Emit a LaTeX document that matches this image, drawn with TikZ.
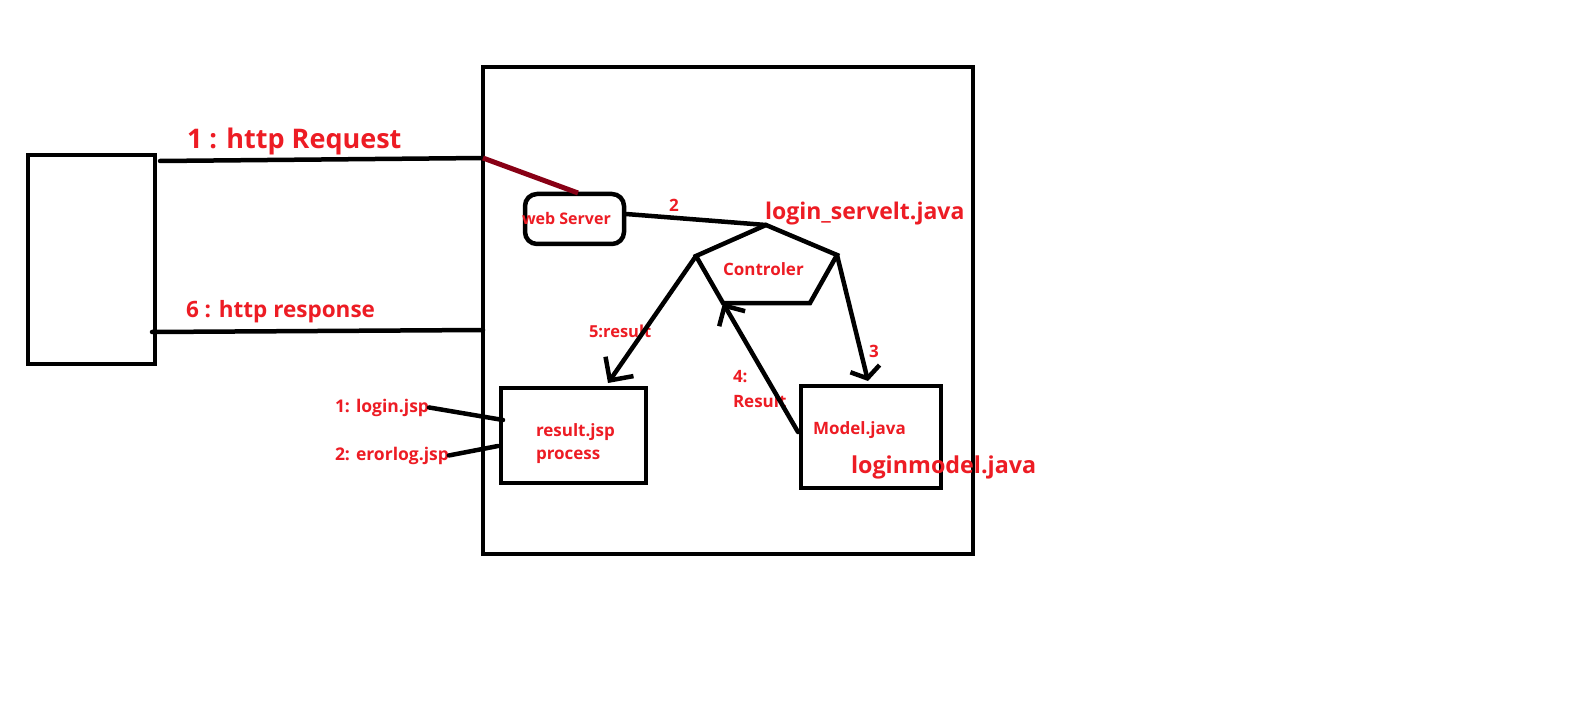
\documentclass[tikz,border=0pt]{standalone}
\usepackage{fontspec}
\setmainfont{Open Sans}
\usetikzlibrary{arrows.meta}
\definecolor{pred}{HTML}{ED1C24}
\definecolor{pdark}{HTML}{880015}
\newcommand{\fsz}[1]{\fontsize{#1}{#1}\selectfont\bfseries}
\begin{document}
\begin{tikzpicture}[x=1pt,y=-1pt,
  box/.style={draw=black,line width=4.5pt,rectangle,inner sep=0pt,outer sep=0pt},
  lbl/.style={text=pred,anchor=base west,inner sep=0pt,outer sep=0pt},
  wire/.style={draw=black,line width=4.5pt,line cap=round},
  ]
\useasboundingbox[fill=white] (0,0) rectangle (1594,719);
% boxes
\node[box,minimum width=127pt,minimum height=209pt] (client) at (91.5,259.5) {};
\node[box,minimum width=490pt,minimum height=487pt] (server) at (728,310.5) {};
\node[box,rounded corners=12pt,minimum width=99pt,minimum height=50pt] (web) at (574.5,219) {};
\node[box,minimum width=145pt,minimum height=95pt] (result) at (573.5,435.5) {};
\node[box,minimum width=140pt,minimum height=102pt] (model) at (871,437) {};
% pentagon (controller)
\coordinate (pt) at (766,225);
\coordinate (pr) at (837,255);
\coordinate (pbr) at (810,303);
\coordinate (pbl) at (723,303);
\coordinate (pl) at (696,256);
\draw[line width=4.5pt,line join=miter] (pt) -- (pr) -- (pbr) -- (pbl) -- (pl) -- cycle;
% labels
\node[lbl,font=\fsz{27}] (reqlbl) at (187,149) {1 : http Request};
\node[lbl,font=\fsz{22.5}] (resplbl) at (186,317) {6 : http response};
\node[lbl,font=\fsz{16}] (wslbl) at (522,225) {web Server};
\node[lbl,font=\fsz{17}] (two) at (669,212) {2};
\node[lbl,font=\fsz{23}] (servlbl) at (765,220) {login\_servelt.java};
\node[lbl,font=\fsz{17}] (ctrl) at (723,275) {Controler};
\node[lbl,font=\fsz{16.5}] (five) at (589,337) {5:result};
\node[lbl,font=\fsz{17}] (three) at (869,357) {3};
\node[lbl,font=\fsz{17}] (four) at (733,382) {4:};
\node[lbl,font=\fsz{17}] (fourb) at (733,407) {Result};
\node[lbl,font=\fsz{17}] (modlbl) at (813,434) {Model.java};
\node[lbl,font=\fsz{23.3}] (lmodel) at (851,473) {loginmodel.java};
\node[lbl,font=\fsz{17}] (res1) at (536,436) {result.jsp};
\node[lbl,font=\fsz{17}] (res2) at (536,459) {process};
\node[lbl,font=\fsz{17.5}] (l1) at (335,412) {1: login.jsp};
\node[lbl,font=\fsz{17.5}] (l2) at (335,460) {2: erorlog.jsp};
% connector end points
\coordinate (reqS) at (160,161);
\coordinate (reqE) at (483,158);
\coordinate (respS) at (152,332);
\coordinate (respE) at (483,330);
\coordinate (webTop) at (578,193);
\coordinate (webE) at (626,214);
\coordinate (resTop) at (608,383);
\coordinate (modTop) at (868,381);
\coordinate (modL) at (798,432);
\coordinate (l1E) at (503,420);
\coordinate (l2E) at (498,446);
% connectors
\draw[wire] (reqS) -- (reqE);
\draw[wire] (respS) -- (respE);
\draw[line width=5pt,pdark] (reqE) -- (webTop);
\draw[wire] (webE) -- (pt);
\draw[wire,-{Straight Barb[length=17pt,width=34pt]}] (pl) -- (resTop);
\draw[wire,-{Straight Barb[length=10pt,width=30pt]}] (pr) -- (modTop);
\draw[wire,-{Straight Barb[length=15pt,width=30pt]}] (modL) -- (pbl);
\draw[wire] (l1.east) -- (l1E);
\draw[wire] (l2.east) -- (l2E);
\end{tikzpicture}
\end{document}
